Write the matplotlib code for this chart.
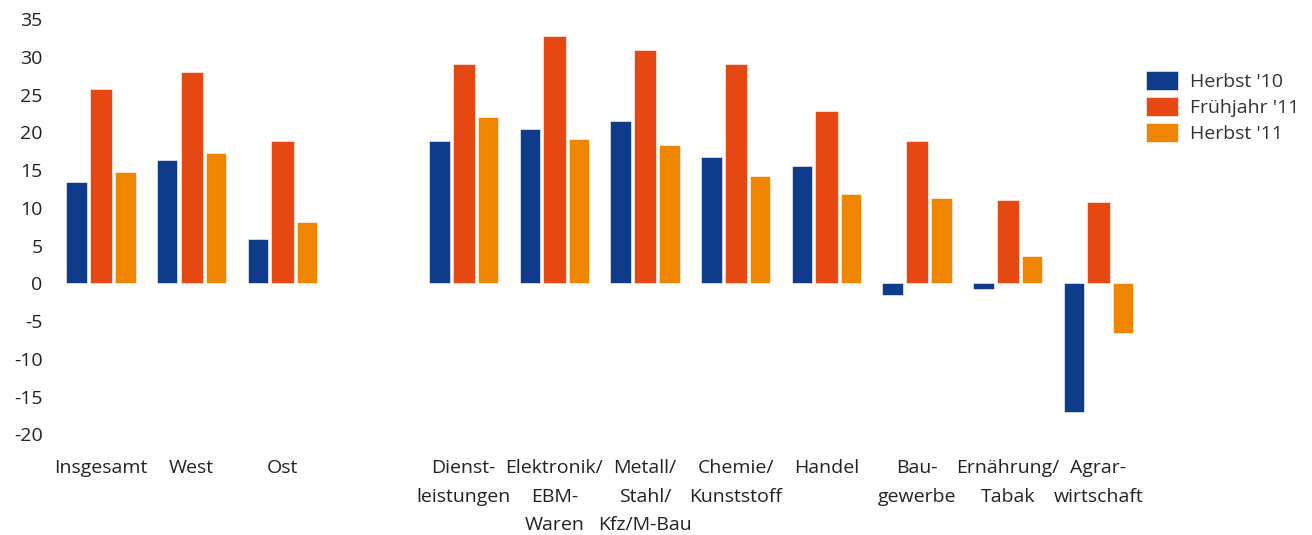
import matplotlib
matplotlib.use("Agg")
import matplotlib.pyplot as plt
import numpy as np

categories = ["Insgesamt", "West", "Ost", "",
              "Dienst-\nleistungen", "Elektronik/\nEBM-\nWaren", "Metall/\nStahl/\nKfz/M-Bau",
              "Chemie/\nKunststoff", "Handel", "Bau-\ngewerbe", "Ernährung/\nTabak",
              "Agrar-\nwirtschaft"]
series_names = ["Herbst '10", "Frühjahr '11", "Herbst '11"]
herbst10 = [13.4, 16.3, 5.9, np.nan, 18.9, 20.5, 21.5, 16.8, 15.6, -1.5, -0.7, -17.0]
fruehjahr11 = [25.7, 28.0, 18.9, np.nan, 29.1, 32.8, 30.9, 29.1, 22.8, 18.9, 11.0, 10.8]
herbst11 = [14.7, 17.3, 8.2, np.nan, 22.0, 19.1, 18.3, 14.2, 11.8, 11.3, 3.7, -6.5]
yticks = [-20, -15, -10, -5, 0, 5, 10, 15, 20, 25, 30, 35]

colors = ["#0F3C8A", "#E64814", "#F08600"]

plt.rcParams['font.family'] = ['Open Sans', 'DejaVu Sans']

fig = plt.figure(figsize=(13.12, 5.35), dpi=100)
ax = fig.add_axes([0.0356, 0.188, 0.871 - 0.0348, 0.964 - 0.188])

x = np.arange(len(categories))
off = 0.27
w = 0.225
for i, (vals, name, c) in enumerate(zip([herbst10, fruehjahr11, herbst11], series_names, colors)):
    ww = w + (0.02 if i == 1 else 0.0)
    ax.bar(x + (i - 1) * off, vals, width=ww, color=c, edgecolor="white", linewidth=0.4, label=name)

ax.set_xlim(-0.6, 11.5)
ax.set_ylim(-20, 35)
ax.set_yticks(yticks)
ax.set_yticklabels([str(t) for t in yticks])
ax.set_xticks(x)
ax.set_xticklabels(categories, linespacing=1.75)
for s in ax.spines.values():
    s.set_visible(False)
ax.tick_params(axis='both', length=0, labelsize=14, colors="#222222")
ax.tick_params(axis='x', pad=18)
ax.tick_params(axis='y', pad=3)

leg = fig.legend(loc="upper left", bbox_to_anchor=(1146 / 1312, 1 - 71 / 535),
                 frameon=False, fontsize=14, handlelength=1.65, handleheight=1.15,
                 labelspacing=0.3, handletextpad=0.6, borderpad=0, borderaxespad=0)
for t in leg.get_texts():
    t.set_color("#333333")

fig.savefig("out.png", dpi=100)
